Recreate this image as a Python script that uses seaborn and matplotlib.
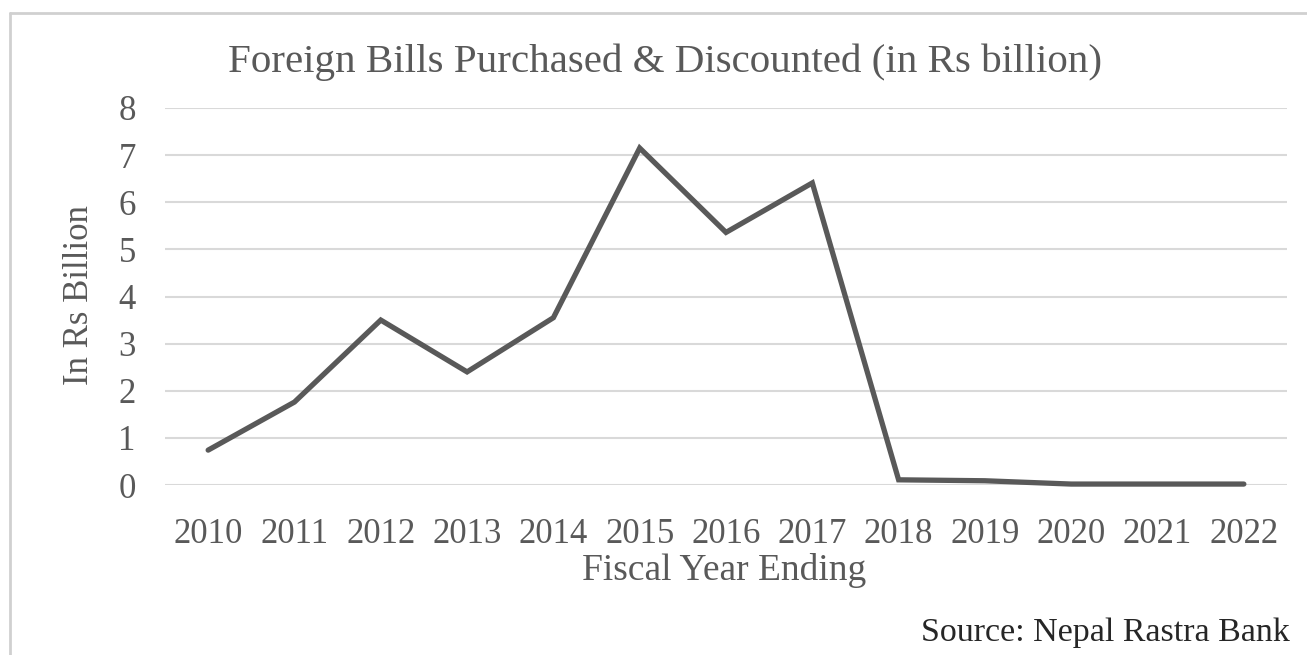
import matplotlib
matplotlib.use("Agg")
import matplotlib.pyplot as plt
import seaborn as sns
import pandas as pd

years = ["2010", "2011", "2012", "2013", "2014", "2015", "2016",
         "2017", "2018", "2019", "2020", "2021", "2022"]
values = [0.74, 1.76, 3.50, 2.40, 3.55, 7.15, 5.36, 6.41, 0.11, 0.09, 0.02, 0.02, 0.02]
y_ticks = [0, 1, 2, 3, 4, 5, 6, 7, 8]

title = "Foreign Bills Purchased & Discounted (in Rs billion)"
x_label = "Fiscal Year Ending"
y_label = "In Rs Billion"
source = "Source: Nepal Rastra Bank"

sns.set_theme(style="white")
plt.rcParams['font.family'] = ['Liberation Serif', 'DejaVu Serif']

text_color = "#595959"
df = pd.DataFrame({"year": years, "value": values})

fig = plt.figure(figsize=(13.07, 6.55), dpi=100)
ax = fig.add_axes([165/1307, 1-485/655, (1287-165)/1307, (485-108)/655])

sns.lineplot(data=df, x="year", y="value", ax=ax, color="#595959",
             linewidth=3.8, sort=False, solid_joinstyle="miter")

ax.set_xlim(-0.5, len(years) - 0.5)
ax.set_ylim(0, 8)
ax.set_yticks(y_ticks)
ax.set_yticklabels([str(t) for t in y_ticks])
ax.yaxis.grid(True, color="#d9d9d9", linewidth=1.5)
ax.set_axisbelow(True)
for line in ax.get_lines():
    line.set_clip_on(False)
for s in ax.spines.values():
    s.set_visible(False)
ax.tick_params(axis="both", length=0, labelsize=25, colors=text_color)
ax.tick_params(axis="x", pad=24)
ax.tick_params(axis="y", pad=21)

ax.set_xlabel("")
ax.set_ylabel("")
fig.text(724/1307, 1-570/655, x_label, ha="center", va="center", fontsize=27, color=text_color)
fig.text(80/1307, 1-295/655, y_label, ha="center", va="center", rotation=90, fontsize=25, color=text_color)
fig.text(665/1307, 1-62/655, title, ha="center", va="center", fontsize=29.5, color=text_color)
fig.text(1290/1307, 1-633/655, source, ha="right", va="center", fontsize=24.5, color="#262626")

# outer frame lines
fig.add_artist(plt.Line2D([10/1307, 10/1307], [0, 1-13/655], color="#d0d0d0", linewidth=2, transform=fig.transFigure))
fig.add_artist(plt.Line2D([10/1307, 1], [1-13/655, 1-13/655], color="#d0d0d0", linewidth=2, transform=fig.transFigure))

fig.savefig("out.png", dpi=100, facecolor="white")
